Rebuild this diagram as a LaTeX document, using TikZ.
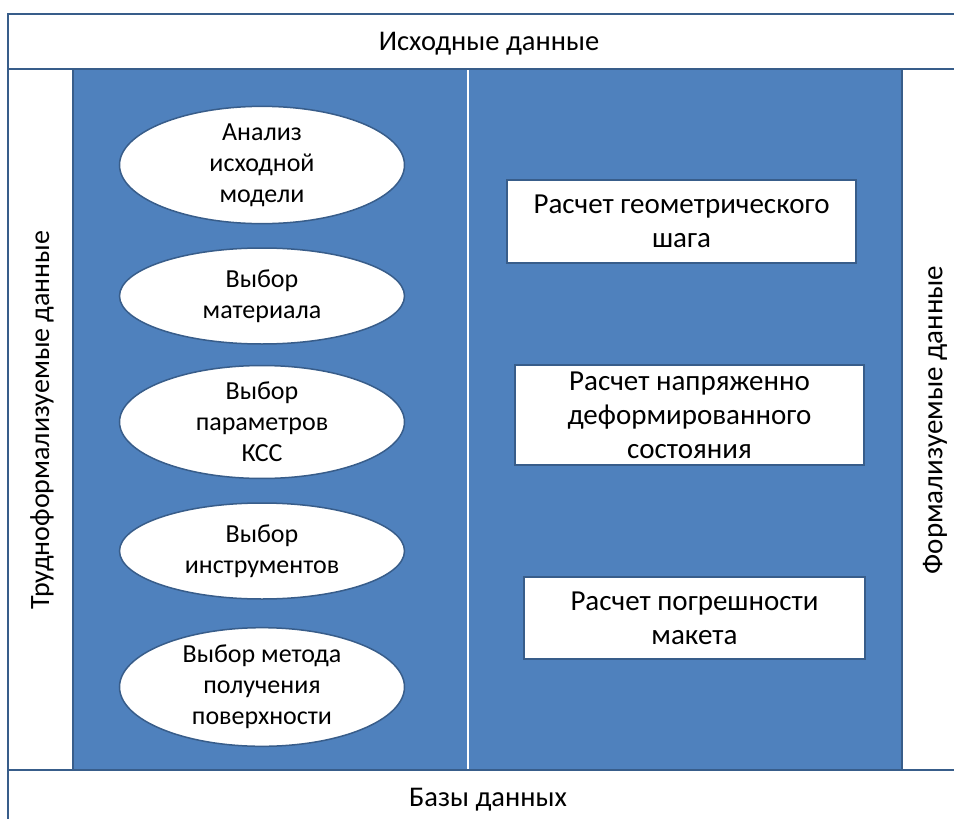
\documentclass[tikz,border=0pt]{standalone}
\usepackage{fontspec}
\setmainfont{Carlito}
\usepackage{xcolor}
\usetikzlibrary{shapes.geometric}
\definecolor{panelblue}{HTML}{4F81BD}
\definecolor{edgeblue}{HTML}{385D8A}

\begin{document}
\begin{tikzpicture}[
  x=1pt, y=-1pt,
  ovalnode/.style={ellipse, draw=edgeblue, line width=1.5pt, fill=white, minimum width=285pt, minimum height=96pt, inner sep=0pt, align=center, font=\fontsize{26}{31}\selectfont},
  boxnode/.style={rectangle, draw=edgeblue, line width=1.5pt, fill=white, inner sep=0pt, align=center, font=\fontsize{29}{34}\selectfont},
  bandtext/.style={font=\fontsize{28.5}{32}\selectfont, inner sep=0pt}
]
\useasboundingbox (0,0) rectangle (954,819);
\clip (0,0) rectangle (954,819);

% outer frame and bands
\draw[edgeblue, line width=1.5pt, fill=white] (8,14) rectangle (980,840);
\draw[edgeblue, line width=1.5pt] (8,69) -- (980,69);
\draw[edgeblue, line width=1.5pt] (8,770) -- (980,770);
\draw[edgeblue, line width=1.5pt, fill=panelblue] (73,69) rectangle (902,770);
\draw[white, line width=2pt] (468,70) -- (468,769);

% band labels
\node[bandtext] (src) at (489,44) {Исходные данные};
\node[bandtext] (db) at (488,800) {Базы данных};
\node[bandtext, font=\fontsize{28}{30}\selectfont, rotate=90] (hard) at (42,420) {Трудноформализуемые данные};
\node[bandtext, font=\fontsize{29}{32}\selectfont, rotate=90] (formal) at (935,420) {Формализуемые данные};

% left column: ovals
\node[ovalnode] (e1) at (262,165) {Анализ\\исходной\\модели};
\node[ovalnode] (e2) at (262,296) {Выбор\\материала};
\node[ovalnode] (e3) at (262,422) {Выбор\\параметров\\КСС};
\node[ovalnode] (e4) at (262,551) {Выбор\\инструментов};
\node[ovalnode] (e5) at (262,687) {Выбор метода\\получения\\поверхности};

% right column: boxes
\node[boxnode, minimum width=349pt, minimum height=83pt] (r1) at (681.5,221.5) {Расчет геометрического\\шага};
\node[boxnode, minimum width=349pt, minimum height=100pt] (r2) at (689.5,415) {Расчет напряженно\\деформированного\\состояния};
\node[boxnode, minimum width=341pt, minimum height=82pt] (r3) at (694.5,618) {Расчет погрешности\\макета};
\end{tikzpicture}
\end{document}
